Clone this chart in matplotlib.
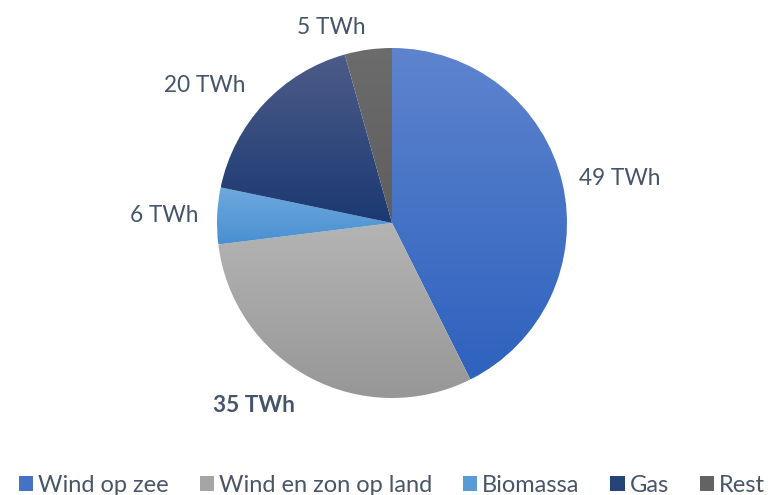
import numpy as np
import matplotlib.pyplot as plt
from matplotlib.colors import LinearSegmentedColormap
from matplotlib.patches import Patch

categories = ['Wind op zee', 'Wind en zon op land', 'Biomassa', 'Gas', 'Rest']
values = [49, 35, 6, 20, 5]
labels = ['49 TWh', '35 TWh', '6 TWh', '20 TWh', '5 TWh']
bold = [False, True, False, False, False]
label_dist = [1.1, 1.18, 1.11, 1.15, 1.13]

# top colour, bottom colour of each slice gradient, legend colour
tops = ['#5E84CE', '#B4B4B4', '#6FA9DE', '#4D5C89', '#6C6C6C']
bottoms = ['#2E62BE', '#979797', '#4990D2', '#1B3972', '#5E5E5E']
legend_colors = ['#4472C4', '#A5A5A5', '#5B9BD5', '#264478', '#636363']

plt.rcParams['font.family'] = ['Lato', 'DejaVu Sans']
label_color = '#44546A'

fig = plt.figure(figsize=(7.72, 4.95), dpi=100)
ax = fig.add_axes([0, 0, 1, 1])
R = 175.0
cx, cy = 392, 223

wedges, _ = ax.pie(values, startangle=90, counterclock=False, radius=1,
                   colors=legend_colors, wedgeprops=dict(linewidth=0))
ax.set_aspect('auto')
ax.axis('off')

grad = np.linspace(0, 1, 256).reshape(-1, 1)
for w, top, bot in zip(wedges, tops, bottoms):
    w.set_facecolor('none')
    ext = w.get_path().get_extents()
    cmap = LinearSegmentedColormap.from_list('g', [top, bot])
    im = ax.imshow(grad, cmap=cmap, aspect='auto',
                   extent=(ext.x0, ext.x1, ext.y0, ext.y1), origin='upper',
                   interpolation='bilinear', zorder=1)
    im.set_clip_path(w)
ax.set_xlim(-cx / R, (772 - cx) / R)
ax.set_ylim(-(495 - cy) / R, cy / R)

for w, lab, b, d in zip(wedges, labels, bold, label_dist):
    ang = np.deg2rad((w.theta1 + w.theta2) / 2)
    c, s = np.cos(ang), np.sin(ang)
    ha = 'left' if c > 0.1 else 'right'
    ax.text(d * c, d * s, lab, ha=ha, va='center', fontsize=16.3, color=label_color,
            fontweight='bold' if b else 'normal')

handles = [Patch(facecolor=c, edgecolor='none') for c in legend_colors]
fig.legend(handles, categories, loc='center', bbox_to_anchor=(392 / 772, 1 - 485 / 495),
           ncol=5, frameon=False, fontsize=17, handlelength=0.6, handleheight=0.6,
           handletextpad=0.22, columnspacing=1.3, labelcolor='#4A5568',
           borderaxespad=0, borderpad=0)

fig.savefig('out.png', dpi=100)
